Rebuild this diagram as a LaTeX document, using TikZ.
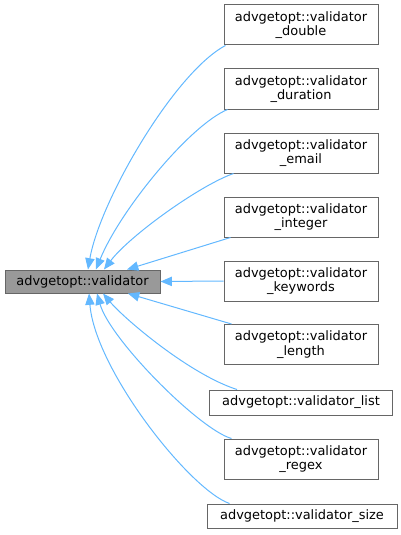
\documentclass[tikz,border=0pt]{standalone}
\usepackage{fontspec}
\setmainfont{DejaVu Sans}
\usetikzlibrary{arrows.meta}
\definecolor{edgeblue}{HTML}{63B8FF}
\definecolor{boxgrey}{HTML}{666666}
\definecolor{basefill}{HTML}{999999}

\begin{document}
\begin{tikzpicture}[
  x=0.75pt, y=0.75pt,
  font=\fontsize{9.7}{10.8}\selectfont,
  cls/.style={draw=boxgrey, line width=0.75pt, fill=white, inner sep=0pt, align=center, minimum width=115.5pt, minimum height=30pt},
  inh/.style={draw=edgeblue, line width=0.75pt, -{Triangle[length=8.5pt,width=7pt]}}
]
  \useasboundingbox (0,0) rectangle (400,-535);
  \node[cls, fill=basefill, minimum width=116.25pt, minimum height=17.25pt] (validator) at (82.5,-281.5) {advgetopt::validator};
  \node[cls] (vdouble) at (301,-25) {advgetopt::validator\\\_double};
  \node[cls] (vduration) at (301,-89) {advgetopt::validator\\\_duration};
  \node[cls] (vemail) at (301,-153) {advgetopt::validator\\\_email};
  \node[cls] (vinteger) at (301,-217) {advgetopt::validator\\\_integer};
  \node[cls] (vkeywords) at (301,-281) {advgetopt::validator\\\_keywords};
  \node[cls] (vlength) at (301,-344.5) {advgetopt::validator\\\_length};
  \node[cls, minimum width=137.25pt, minimum height=18.75pt] (vlist) at (301,-402.5) {advgetopt::validator\_list};
  \node[cls] (vregex) at (301,-459) {advgetopt::validator\\\_regex};
  \node[cls, minimum width=142.5pt, minimum height=18pt] (vsize) at (302,-516) {advgetopt::validator\_size};

  \draw[inh] ([xshift=1.5pt]vdouble.south west) .. controls +(-51,-27) and +(12,69) .. ([xshift=4.1pt]validator.north);
  \draw[inh] ([xshift=3pt]vduration.south west) .. controls +(-38,-16) and +(24,59) .. ([xshift=10.1pt]validator.north);
  \draw[inh] ([xshift=7.5pt]vemail.south west) .. controls +(-34,-12) and +(26,34) .. ([xshift=16.1pt]validator.north);
  \draw[inh] ([xshift=5.25pt]vinteger.south west) -- ([xshift=33.4pt]validator.north);
  \draw[inh] (vkeywords.west) -- (validator.east);
  \draw[inh] ([xshift=6pt]vlength.north west) -- ([xshift=34.1pt]validator.south);
  \draw[inh] ([xshift=21pt]vlist.north west) .. controls +(-47,15) and +(22,-26) .. ([xshift=15.4pt]validator.south);
  \draw[inh] ([xshift=6pt]vregex.north west) .. controls +(-32,9) and +(13,-46) .. ([xshift=10.9pt]validator.south);
  \draw[inh] ([xshift=17.25pt]vsize.north west) .. controls +(-40,14) and +(6,-76) .. ([xshift=4.9pt]validator.south);
\end{tikzpicture}
\end{document}
